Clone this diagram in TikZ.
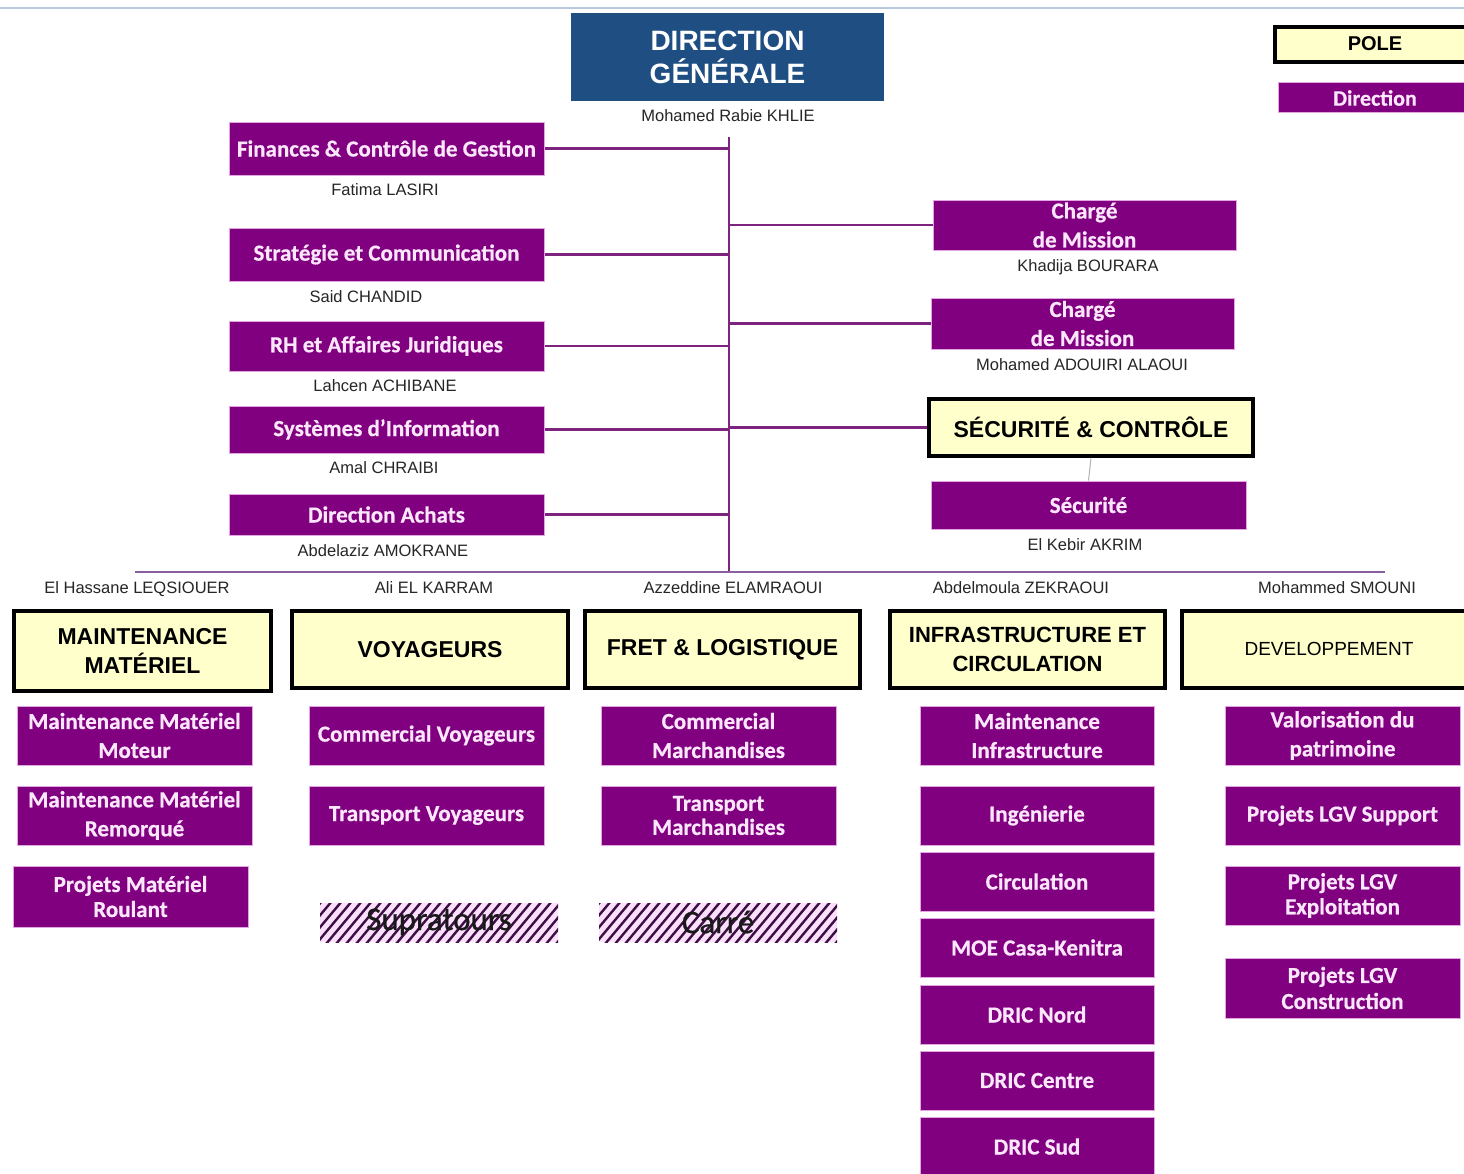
\documentclass[tikz,border=0pt]{standalone}
\usepackage{fontspec}
\setmainfont{Liberation Sans}
\newfontfamily\boxfont[BoldFeatures={FakeBold=0.6}]{Carlito}
\newfontfamily\tagfont[FakeBold=0.5]{Carlito}
\definecolor{dgblue}{HTML}{1F4E82}
\definecolor{plum}{HTML}{800080}
\definecolor{plumedge}{HTML}{E2A6E2}
\definecolor{plumtext}{HTML}{FBE6FB}
\definecolor{plumline}{HTML}{7E237E}
\definecolor{baseplum}{HTML}{8C5FA0}
\definecolor{cream}{HTML}{FFFFCC}
\definecolor{hatchink}{HTML}{3E0F44}
\definecolor{hatchbg}{HTML}{FAE0FA}
\definecolor{topline}{HTML}{B9C8DB}

% box placed by its corners: name, x1, y1, x2, y2, style, text
\newcommand\cbox[7]{%
  \node[#6, minimum width={(#4-#2)*1pt}, minimum height={(#5-#3)*1pt}]
    (#1) at ({(#2+#4)/2},{(#3+#5)/2}) {#7};}

\begin{document}
\begin{tikzpicture}[x=1pt, y=-1pt,
  unit/.style={fill=plum, draw=plumedge, line width=1pt, text=plumtext,
    font=\boxfont\bfseries\fontsize{23}{29}\selectfont, align=center, inner sep=0pt},
  pole/.style={fill=cream, draw=black, line width=3.5pt,
    font=\bfseries\fontsize{23}{29}\selectfont, align=center, inner sep=0pt},
  head/.style={fill=dgblue, draw=none, text=white,
    font=\bfseries\fontsize{28}{33}\selectfont, align=center, inner sep=0pt},
  who/.style={font=\fontsize{16.5}{18}\selectfont, text=black!85, inner sep=0pt},
  link/.style={draw=plumline, line width=2.5pt},
  hatchtext/.style={font=\tagfont\fontsize{33}{35}\selectfont, text=black!90, inner sep=0pt}
]
\useasboundingbox (0,0) rectangle (1464,1173);
\fill[white] (0,0) rectangle (1464,1173);
\draw[topline, line width=1.2pt] (0,8) -- (1464,8);

% ---------- top management ----------
\cbox{dg}{571}{13}{884}{101}{head}{DIRECTION\\GÉNÉRALE}
\node[who] (dgname) at (728,116) {Mohamed Rabie KHLIE};

\coordinate (trunktop) at (729,137);
\coordinate (trunkbot) at (729,572);
\coordinate (baseL) at (135,572);
\coordinate (baseR) at (1385,572);

% ---------- support directions (left) ----------
\cbox{fin}{229}{122}{544}{175}{unit}{Finances \& Contrôle de Gestion}
\node[who] (finname) at (385,190) {Fatima LASIRI};
\cbox{strat}{229}{228}{544}{281}{unit}{Stratégie et Communication}
\node[who] (stratname) at (366,297) {Said CHANDID};
\cbox{rh}{229}{321}{544}{371}{unit}{RH et Affaires Juridiques}
\node[who] (rhname) at (385,386) {Lahcen ACHIBANE};
\cbox{si}{229}{406}{544}{453}{unit}{Systèmes d’Information}
\node[who] (siname) at (384,468) {Amal CHRAIBI};
\cbox{achats}{229}{494}{544}{535}{unit}{Direction Achats}
\node[who] (achatsname) at (383,551) {Abdelaziz AMOKRANE};

% ---------- staff (right) ----------
\cbox{cm1}{933}{200}{1236}{250}{unit}{Chargé\\de Mission}
\node[who] (cm1name) at (1088,267) {Khadija BOURARA};
\cbox{cm2}{931}{298}{1234}{349}{unit}{Chargé\\de Mission}
\node[who] (cm2name) at (1082,365) {Mohamed ADOUIRI ALAOUI};
\cbox{secc}{929}{399}{1253}{456}{pole}{SÉCURITÉ \& CONTRÔLE}
\cbox{sec}{931}{481}{1246}{529}{unit}{Sécurité}
\node[who] (secname) at (1085,545) {El Kebir AKRIM};

% ---------- legend ----------
\cbox{lpole}{1275}{27}{1472}{62}{pole}{}
\node[font=\bfseries\fontsize{20}{24}\selectfont] (lpoletxt) at (1375,44) {POLE};
\cbox{ldir}{1278}{82}{1472}{112}{unit}{}
\node[text=plumtext, font=\boxfont\bfseries\fontsize{22}{24}\selectfont] (ldirtxt) at (1375,98) {Direction};

% ---------- connectors ----------
\draw[link] (trunktop) -- (trunkbot);
\draw[draw=baseplum, line width=2.5pt] (baseL) -- (baseR);
\foreach \n in {fin,strat,rh,si,achats}
  \draw[link] (\n.east) -- (\n.east -| trunktop);
\foreach \n in {cm1,cm2,secc}
  \draw[link] (\n.west) -- (\n.west -| trunktop);
\draw[black!30, line width=1pt] (secc.south) -- (sec.north);

% ---------- poles ----------
\node[who] (mmname) at (137,589) {El Hassane LEQSIOUER};
\node[who] (voyname) at (434,588) {Ali EL KARRAM};
\node[who] (fretname) at (733,588) {Azzeddine ELAMRAOUI};
\node[who] (infraname) at (1021,588) {Abdelmoula ZEKRAOUI};
\node[who] (devname) at (1337,588) {Mohammed SMOUNI};

\cbox{mm}{14}{611}{271}{691}{pole}{MAINTENANCE\\MATÉRIEL}
\cbox{voy}{292}{611}{568}{688}{pole}{VOYAGEURS}
\cbox{fret}{585}{611}{860}{688}{pole}{FRET \& LOGISTIQUE}
\cbox{infra}{890}{611}{1165}{688}{pole, font=\bfseries\fontsize{22}{29}\selectfont}{INFRASTRUCTURE ET\\CIRCULATION}
\cbox{dev}{1182}{611}{1474}{688}{pole}{}
\node[font=\fontsize{19}{24}\selectfont] (devtxt) at (1329,649) {DEVELOPPEMENT};

% Maintenance Matériel
\cbox{mm1}{17}{706}{252}{765}{unit}{Maintenance Matériel\\Moteur}
\cbox{mm2}{17}{786}{252}{845}{unit}{Maintenance Matériel\\Remorqué}
\cbox{mm3}{13}{866}{248}{927}{unit, font=\boxfont\bfseries\fontsize{23}{25}\selectfont}{Projets Matériel\\Roulant}

% Voyageurs
\cbox{voy1}{309}{706}{544}{765}{unit}{Commercial Voyageurs}
\cbox{voy2}{309}{786}{544}{845}{unit}{Transport Voyageurs}

% Fret
\cbox{fret1}{601}{706}{836}{765}{unit}{Commercial\\Marchandises}
\cbox{fret2}{601}{786}{836}{845}{unit, font=\boxfont\bfseries\fontsize{23}{24}\selectfont}{Transport\\Marchandises}

% hatched subsidiaries
\foreach \hx/\hy/\hw/\hh in {320/903/238/39, 599/903/238/39}{
  \begin{scope}
    \clip (\hx,\hy) rectangle ++(\hw,\hh);
    \fill[hatchbg] (\hx,\hy) rectangle ++(\hw,\hh);
    \foreach \k in {0,...,28}
      \draw[hatchink, line width=2.4pt] ({\hx-34+\k*10},{\hy+\hh+2}) -- ++(36,-\hh-4);
  \end{scope}
}
\node[hatchtext] (supra) at (439,922) {Supratours};
\node[hatchtext] (carre) at (718,922) {Carré};

% Infrastructure et Circulation
\cbox{inf1}{920}{706}{1154}{765}{unit}{Maintenance\\Infrastructure}
\cbox{inf2}{920}{786}{1154}{845}{unit}{Ingénierie}
\cbox{inf3}{920}{852}{1154}{911}{unit}{Circulation}
\cbox{inf4}{920}{918}{1154}{977}{unit}{MOE Casa-Kenitra}
\cbox{inf5}{920}{985}{1154}{1044}{unit}{DRIC Nord}
\cbox{inf6}{920}{1051}{1154}{1110}{unit}{DRIC Centre}
\cbox{inf7}{920}{1117}{1154}{1176}{unit}{DRIC Sud}

% Développement
\cbox{dev1}{1225}{706}{1460}{765}{unit}{Valorisation du\\patrimoine}
\cbox{dev2}{1225}{786}{1460}{845}{unit}{Projets LGV Support}
\cbox{dev3}{1225}{866}{1460}{925}{unit, font=\boxfont\bfseries\fontsize{23}{25}\selectfont}{Projets LGV\\Exploitation}
\cbox{dev4}{1225}{958}{1460}{1018}{unit, font=\boxfont\bfseries\fontsize{23}{26}\selectfont}{Projets LGV\\Construction}
\end{tikzpicture}
\end{document}
